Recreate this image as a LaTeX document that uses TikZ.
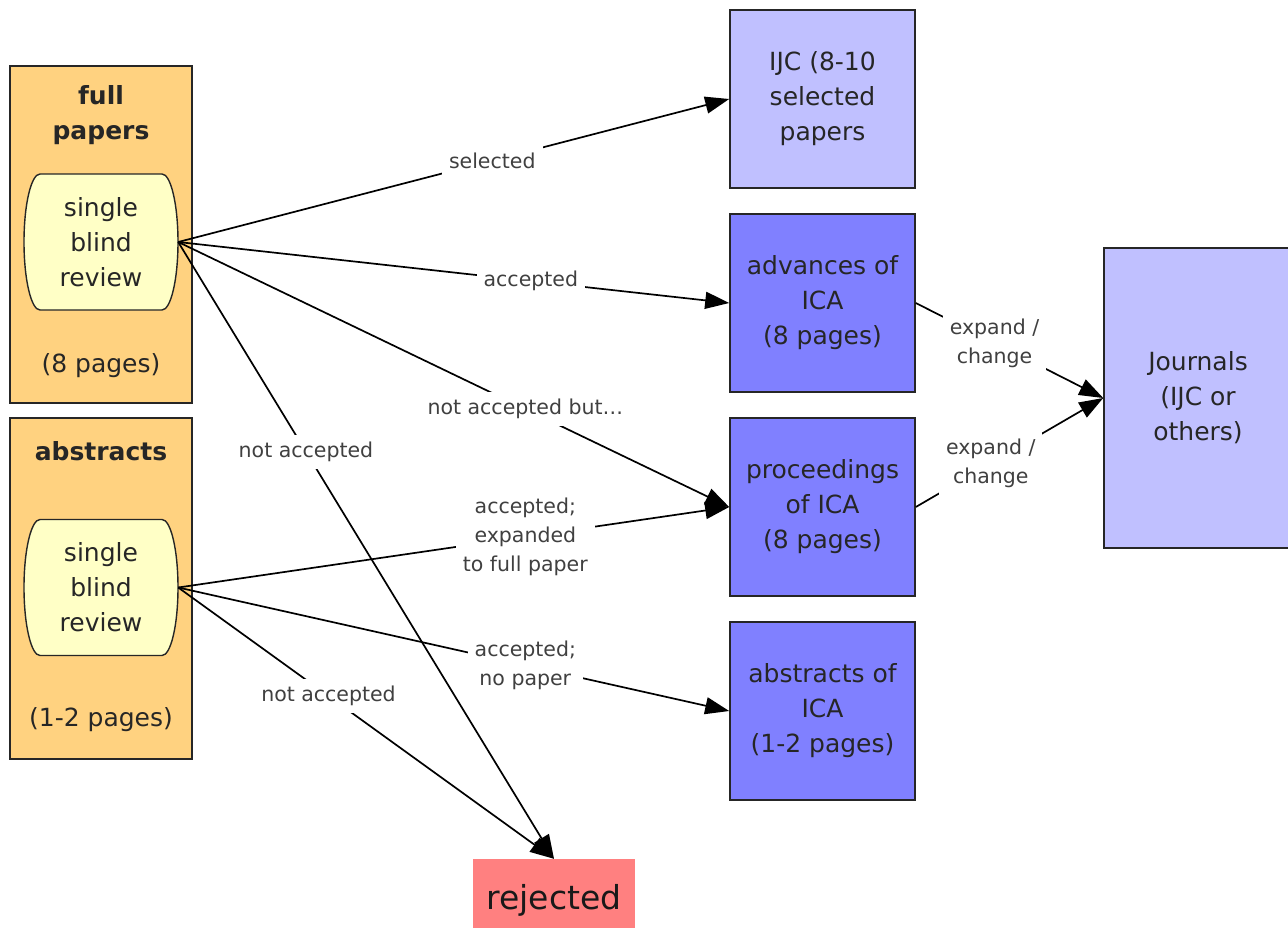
\documentclass[tikz,border=0pt]{standalone}
\usepackage{fontspec}
\setmainfont{DejaVu Sans}
\usetikzlibrary{arrows.meta}

\definecolor{trackfill}{RGB}{255,210,128}
\definecolor{reviewfill}{RGB}{255,255,198}
\definecolor{paleblue}{RGB}{192,192,255}
\definecolor{midblue}{RGB}{128,128,255}
\definecolor{rejfill}{RGB}{255,128,128}

\newcommand{\bigtxt}{\fontsize{25}{35}\selectfont}
\newcommand{\smalltxt}{\fontsize{20.5}{29}\selectfont}

\tikzset{
  track/.style={draw=black!85, line width=1.6pt, fill=trackfill,
    minimum width=182pt, minimum height=337pt, inner sep=0pt},
  reviewline/.style={draw=black!85, line width=1.4pt, fill=reviewfill},
  review/.style={minimum width=154pt, minimum height=136pt, inner sep=0pt,
    align=center, font=\bigtxt, text=black!85},
  venue/.style={draw=black!85, line width=1.6pt, minimum width=185pt,
    minimum height=178pt, align=center, font=\bigtxt, text=black!85},
  flow/.style={-{Triangle[length=24pt,width=17pt]}, line width=1.7pt},
  tag/.style={fill=white, inner sep=7pt, align=center, font=\smalltxt,
    text=black!75},
  plain/.style={align=center, font=\bigtxt, text=black!85}
}

\begin{document}
\begin{tikzpicture}[x=1pt,y=-1pt]
  \useasboundingbox (0,0) rectangle (1288,927);

  % left: the two tracks
  \node[track] (fulltrack) at (101,234.5) {};
  \node[track, minimum height=341pt] (abstrack) at (101,588.5) {};
  \node[plain, font=\bigtxt\bfseries] (fulltitle) at (101,115) {full\\papers};
  \node[plain] (fullpages) at (101,366) {(8 pages)};
  \node[plain, font=\bigtxt\bfseries] (abstitle) at (101,451) {abstracts};
  \node[plain] (abspages) at (101,720) {(1-2 pages)};

  % review blobs with elliptic corners
  \foreach \cy/\nm in {242/fullrev, 587.5/absrev} {
    \path[reviewline] (40,\cy-68) -- (162,\cy-68)
      arc[start angle=-90, end angle=90, x radius=16, y radius=68]
      -- (40,\cy+68)
      arc[start angle=90, end angle=270, x radius=16, y radius=68] -- cycle;
    \node[review] (\nm) at (101,\cy) {single\\blind\\review};
  }

  % middle: where papers end up
  \node[venue, fill=paleblue] (ijc) at (822.5,99) {IJC (8-10\\selected\\papers};
  \node[venue, fill=midblue] (advances) at (822.5,303) {advances of\\ICA\\(8 pages)};
  \node[venue, fill=midblue] (proceedings) at (822.5,507) {proceedings\\of ICA\\(8 pages)};
  \node[venue, fill=midblue] (absica) at (822.5,711) {abstracts of\\ICA\\(1-2 pages)};

  \node[venue, fill=paleblue, minimum width=188pt, minimum height=300pt]
    (journals) at (1198,398) {Journals\\(IJC or\\others)};

  \node[fill=rejfill, minimum width=162pt, minimum height=82pt,
    font=\fontsize{33}{40}\selectfont, text=black!90, inner sep=0pt]
    (rejected) at (554,900) {rejected};

  % full paper decisions
  \draw[flow] (fullrev.east) -- node[tag, pos=0.57] {selected} (ijc.west);
  \draw[flow] (fullrev.east) -- node[tag, pos=0.64] {accepted} (advances.west);
  \draw[flow] (fullrev.east) -- node[tag, pos=0.63] {not accepted but\dots} (proceedings.west);
  \draw[flow] (fullrev.east) -- node[tag, pos=0.34] {not accepted} (rejected.north);

  % abstract decisions
  \draw[flow] (absrev.east) -- node[tag, pos=0.63] {accepted;\\expanded\\to full paper} (proceedings.west);
  \draw[flow] (absrev.east) -- node[tag, pos=0.63] {accepted;\\no paper} (absica.west);
  \draw[flow] (absrev.east) -- node[tag, pos=0.40] {not accepted} (rejected.north);

  % on to journals
  \draw[flow] (advances.east) -- node[tag, pos=0.42] {expand /\\change} (journals.west);
  \draw[flow] (proceedings.east) -- node[tag, pos=0.40] {expand /\\change} (journals.west);
\end{tikzpicture}
\end{document}
